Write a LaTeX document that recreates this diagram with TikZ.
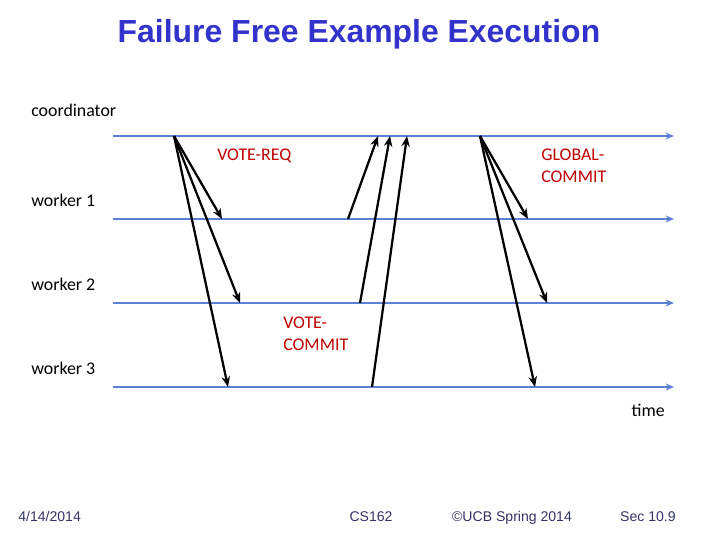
\documentclass[tikz,border=0pt]{standalone}
\usepackage{fontspec}
\setmainfont{Carlito}
\newfontfamily\arialfont{Liberation Sans}
\usepackage{tikz}
\usetikzlibrary{arrows.meta}
\definecolor{lineblue}{RGB}{91,128,214}
\definecolor{msgred}{RGB}{192,0,0}
\definecolor{titleblue}{RGB}{51,51,204}
\definecolor{footgray}{RGB}{51,51,102}
\tikzset{
	timeline/.style={draw=lineblue, line width=1.4pt, -{Stealth[length=6pt, width=5pt]}},
	msg/.style={draw=black, line width=1.6pt, -{Stealth[length=7.5pt, width=6pt]}},
	proc/.style={anchor=west, inner sep=0pt, font=\fontsize{12.7}{15.6}\selectfont},
	msglabel/.style={anchor=north west, inner sep=0pt, align=left, text=msgred, font=\fontsize{12.7}{15.6}\selectfont},
	foot/.style={inner sep=0pt, text=footgray, font=\arialfont\fontsize{10}{12}\selectfont}
}
\begin{document}
\begin{tikzpicture}[x=0.025cm, y=-0.025cm]
		\useasboundingbox (0,0) rectangle (720,540);
		\node[inner sep=0pt, text=titleblue, font=\arialfont\bfseries\fontsize{22.7}{27}\selectfont] (title) at (359,34) {Failure Free Example Execution};
		% processes
		\node[proc] (coord) at (31,110) {coordinator};
		\node[proc] (w1) at (31,200) {worker 1};
		\node[proc] (w2) at (31,284) {worker 2};
		\node[proc] (w3) at (31,368) {worker 3};
		\coordinate (c0) at (113,136); \coordinate (c1) at (674,136);
		\coordinate (a0) at (113,219); \coordinate (a1) at (674,219);
		\coordinate (b0) at (113,303); \coordinate (b1) at (674,303);
		\coordinate (d0) at (113,387); \coordinate (d1) at (674,387);
		\draw[timeline] (c0) -- (c1);
		\draw[timeline] (a0) -- (a1);
		\draw[timeline] (b0) -- (b1);
		\draw[timeline] (d0) -- (d1);
		\node[proc, anchor=east] (time) at (665,410) {time};
		% VOTE-REQ
		\coordinate (req) at (174,136);
		\coordinate (req1) at (222,219);
		\coordinate (req2) at (240,303);
		\coordinate (req3) at (228,387);
		\draw[msg] (req) -- (req1);
		\draw[msg] (req) -- (req2);
		\draw[msg] (req) -- (req3);
		\node[msglabel] (reqlabel) at (217,149) {VOTE-REQ};
		% VOTE-COMMIT
		\coordinate (vc1) at (348,219); \coordinate (vc1e) at (378,136);
		\coordinate (vc2) at (360,303); \coordinate (vc2e) at (390,136);
		\coordinate (vc3) at (372,387); \coordinate (vc3e) at (407,136);
		\draw[msg] (vc1) -- (vc1e);
		\draw[msg] (vc2) -- (vc2e);
		\draw[msg] (vc3) -- (vc3e);
		\node[msglabel] (vclabel) at (283,317) {VOTE-\\COMMIT};
		% GLOBAL-COMMIT
		\coordinate (gc) at (480,136);
		\coordinate (gc1) at (528,219);
		\coordinate (gc2) at (547,303);
		\coordinate (gc3) at (535,387);
		\draw[msg] (gc) -- (gc1);
		\draw[msg] (gc) -- (gc2);
		\draw[msg] (gc) -- (gc3);
		\node[msglabel] (gclabel) at (541,149) {GLOBAL-\\COMMIT};
		% footer
		\node[foot, anchor=base west] (date) at (18,521) {4/14/2014};
		\node[foot, anchor=base] (course) at (371,521) {CS162};
		\node[foot, anchor=base] (copy) at (512,521) {©UCB Spring 2014};
		\node[foot, anchor=base east] (sec) at (676,521) {Sec 10.9};
	\end{tikzpicture}
\end{document}
